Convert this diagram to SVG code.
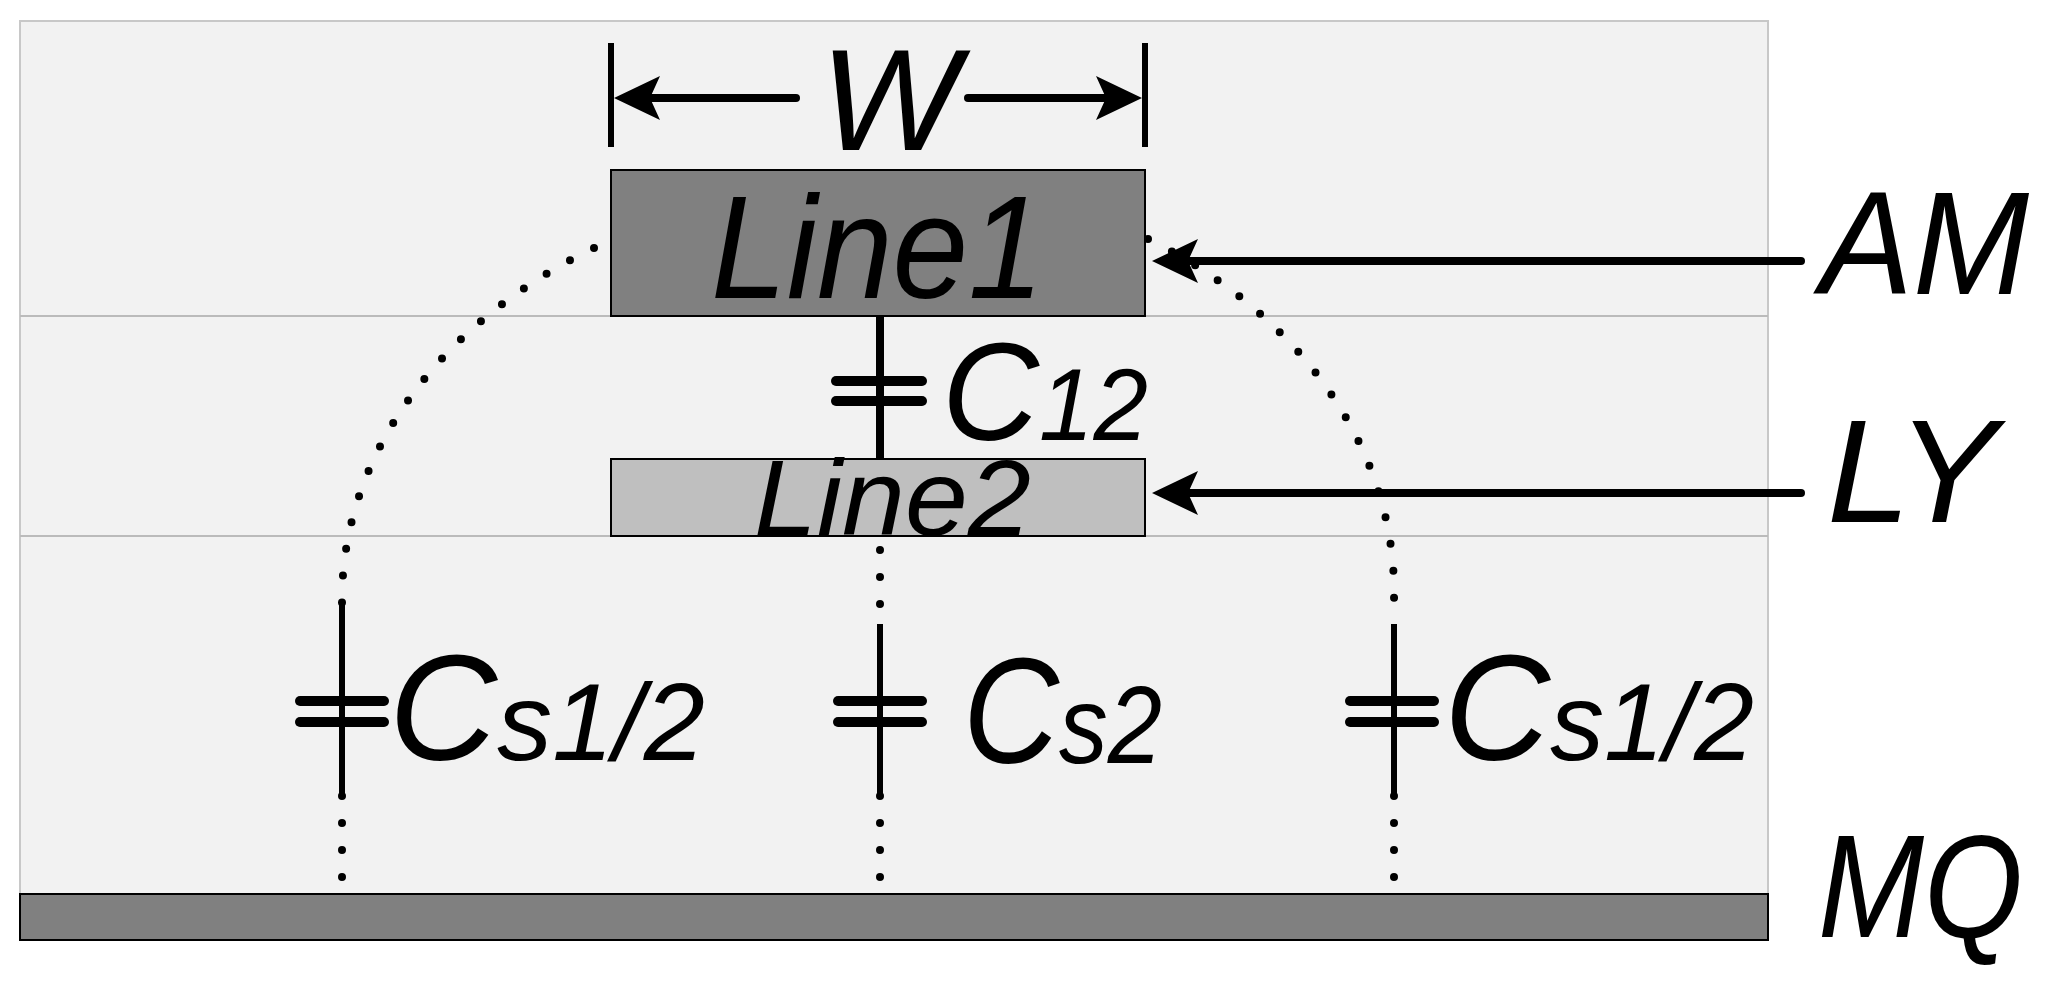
<svg xmlns="http://www.w3.org/2000/svg" width="2046" height="984" viewBox="0 0 2046 984">
<defs>
<style>
.t{font-family:"Liberation Sans",Arial,sans-serif;font-style:italic;fill:#000}
.ln{stroke:#000;stroke-width:8;fill:none}
.thin{stroke:#000;stroke-width:6;fill:none}
.dot{stroke:#000;stroke-width:8;fill:none;stroke-linecap:round;stroke-dasharray:0 27}
.pl{stroke:#000;stroke-width:10;stroke-linecap:round}
.ah{fill:#000}
</style>
</defs>
<rect width="2046" height="984" fill="#fff"/>
<g id="substrate">
<rect x="20" y="21" width="1748" height="873" fill="#f2f2f2" stroke="#c8c8c8" stroke-width="2"/>
<line x1="20" y1="316" x2="1768" y2="316" stroke="#bbb" stroke-width="2"/>
<line x1="20" y1="536" x2="1768" y2="536" stroke="#bbb" stroke-width="2"/>
</g>
<g id="connectors">
<path class="dot" d="M594,248 A535,415 0 0 0 342,600 L342,603"/>
<path class="dot" d="M1148,239 A517,415 0 0 1 1394,600 L1394,624"/>
<line class="dot" x1="880" y1="550" x2="880" y2="624"/>
<line class="dot" x1="342" y1="796" x2="342" y2="894"/>
<line class="dot" x1="880" y1="796" x2="880" y2="894"/>
<line class="dot" x1="1394" y1="796" x2="1394" y2="894"/>
<line class="ln" x1="880" y1="316" x2="880" y2="459"/>
<line class="thin" x1="342" y1="603" x2="342" y2="796"/>
<line class="thin" x1="880" y1="624" x2="880" y2="796"/>
<line class="thin" x1="1394" y1="624" x2="1394" y2="796"/>
<line class="pl" x1="836" y1="381" x2="922" y2="381"/><line class="pl" x1="836" y1="401" x2="922" y2="401"/>
<line class="pl" x1="300" y1="701" x2="384" y2="701"/><line class="pl" x1="300" y1="722" x2="384" y2="722"/>
<line class="pl" x1="838" y1="701" x2="922" y2="701"/><line class="pl" x1="838" y1="722" x2="922" y2="722"/>
<line class="pl" x1="1350" y1="701" x2="1434" y2="701"/><line class="pl" x1="1350" y1="722" x2="1434" y2="722"/>
<line class="thin" x1="611" y1="43" x2="611" y2="147"/>
<line class="thin" x1="1145" y1="43" x2="1145" y2="147"/>
<line class="ln" x1="796" y1="98" x2="640" y2="98" stroke-linecap="round"/>
<polygon class="ah" points="614,98 660,76 650,98 660,120"/>
<line class="ln" x1="968" y1="98" x2="1120" y2="98" stroke-linecap="round"/>
<polygon class="ah" points="1142,98 1096,76 1106,98 1096,120"/>
<line class="ln" x1="1801" y1="261" x2="1180" y2="261" stroke-linecap="round"/>
<polygon class="ah" points="1152,261 1198,239 1188,261 1198,283"/>
<line class="ln" x1="1801" y1="493" x2="1180" y2="493" stroke-linecap="round"/>
<polygon class="ah" points="1152,493 1198,471 1188,493 1198,515"/>
</g>
<g id="line1">
<rect x="611" y="170" width="534" height="146" fill="#808080" stroke="#000" stroke-width="2"/>
<text class="t" x="711" y="298" font-size="146" textLength="333" lengthAdjust="spacingAndGlyphs">Line1</text>
</g>
<g id="line2">
<rect x="611" y="459" width="534" height="77" fill="#bfbfbf" stroke="#000" stroke-width="2"/>
<text class="t" x="754" y="535" font-size="108" textLength="277" lengthAdjust="spacingAndGlyphs">Line2</text>
</g>
<g id="mq">
<rect x="20" y="894" width="1748" height="46" fill="#808080" stroke="#000" stroke-width="2"/>
</g>
<g id="labels">
<text class="t" x="820" y="150" font-size="145" textLength="139" lengthAdjust="spacingAndGlyphs">W</text>
<text class="t" x="942" y="440" font-size="140" textLength="206" lengthAdjust="spacingAndGlyphs">C<tspan font-size="102">12</tspan></text>
<text class="t" x="389" y="760" font-size="150" textLength="316" lengthAdjust="spacingAndGlyphs">C<tspan font-size="110">s1/2</tspan></text>
<text class="t" x="963" y="763" font-size="150" textLength="199" lengthAdjust="spacingAndGlyphs">C<tspan font-size="110">s2</tspan></text>
<text class="t" x="1444" y="760" font-size="150" textLength="310" lengthAdjust="spacingAndGlyphs">C<tspan font-size="110">s1/2</tspan></text>
<text class="t" x="1820" y="294" font-size="146" textLength="209" lengthAdjust="spacingAndGlyphs">AM</text>
<text class="t" x="1827" y="522" font-size="146" textLength="170" lengthAdjust="spacingAndGlyphs">LY</text>
<text class="t" x="1818" y="937" font-size="146" textLength="205" lengthAdjust="spacingAndGlyphs">MQ</text>
</g>
</svg>
